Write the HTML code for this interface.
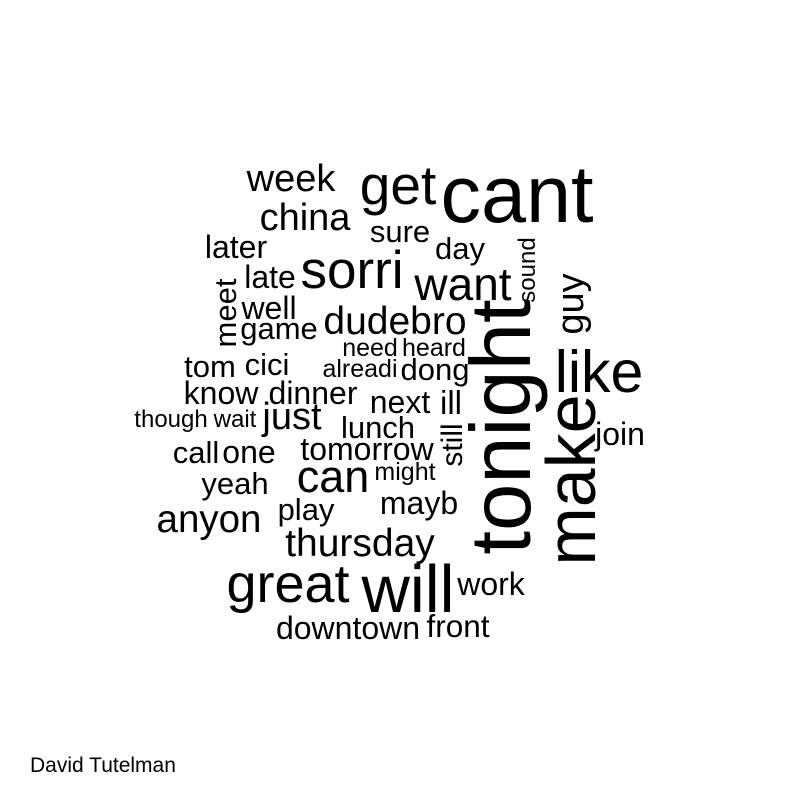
<!DOCTYPE html>
<html>
<head>
<meta charset="utf-8">
<style>
html,body{margin:0;padding:0;background:#fff;}
svg{display:block;}
text{font-family:"Liberation Sans",Arial,sans-serif;fill:#000;}
</style>
</head>
<body>
<svg id="cloud" width="800" height="800" viewBox="0 0 800 800">
<rect width="800" height="800" fill="#fff"></rect>
<g id="words"></g>
<text x="30" y="772" font-size="21">David Tutelman</text>
</svg>
<script>
const words = ["cant","tonight","make","will","like","great","get","sorri","want","can","week","china","dudebro","anyon","thursday","just","guy","later","day","sure","late","well","game","meet","tom","cici","know","dinner","call","one","tomorrow","yeah","play","mayb","next","lunch","ill","still","join","work","front","downtown","dong","sound","though","wait","need","heard","alreadi","might"];
const sizes = [81,85,70,67,59,54,55,53,46,45,38,38,39,38.5,39,38,38,32,31,31,32,32,31,31,31,31,32,32,31,32,32,31,31,32,32,31,33,30,32,32,31.5,32,31,24,24,24,25,25,25,25];
const cx = [517,530,595,408,599,288,398,352,463,333,291,305,395,209,360,292,583,236,460,400,270,269,279,236,210,267,221,313,196,249,367,235,306,419,400,378,451,462,620,491,458,348,435,535,171,235,370,434,360,405];
const cy = [222,427,480,612,392,602,204,288,300,492,191,230,334,532,556,429,304,258,259,242,288,319,339,313,377,375,404,404,463,463,460,494,520,514,413,438,414,445,445,595,637,639,380,270,427,427,356,356,377,480];
const rot = [0,1,1,0,0,0,0,0,0,0,0,0,0,0,0,0,1,0,0,0,0,0,0,1,0,0,0,0,0,0,0,0,0,0,0,0,0,1,0,0,0,0,0,1,0,0,0,0,0,0];
const g = document.getElementById('words');
words.forEach((w,i)=>{
  const t = document.createElementNS('http://www.w3.org/2000/svg','text');
  
  
  t.setAttribute('font-size', sizes[i]);
  t.setAttribute('text-anchor','middle');
  if (rot[i]) {
    t.setAttribute('transform','translate(' + cx[i] + ',' + cy[i] + ') rotate(-90)');
  } else {
    t.setAttribute('x', cx[i]);
    t.setAttribute('y', cy[i]);
  }
  t.textContent = w;
  g.appendChild(t);
});
</script>
</body>
</html>
